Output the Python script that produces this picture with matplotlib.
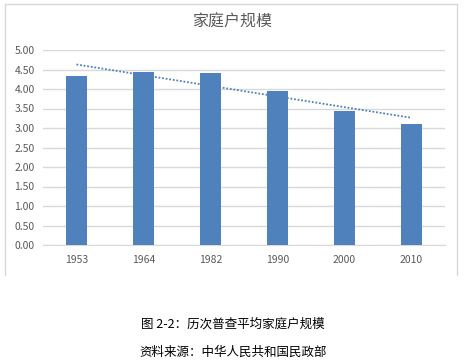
import numpy as np
import matplotlib.pyplot as plt
from matplotlib.lines import Line2D

plt.rcParams['font.family'] = ['Noto Sans CJK SC', 'DejaVu Sans']

# census years and average household size
years = ["1953", "1964", "1982", "1990", "2000", "2010"]
household_size = [4.33, 4.43, 4.41, 3.96, 3.44, 3.10]
y_ticks = [0.0, 0.5, 1.0, 1.5, 2.0, 2.5, 3.0, 3.5, 4.0, 4.5, 5.0]

fig = plt.figure(figsize=(4.67, 3.64), dpi=100)
ax = fig.add_axes([43 / 467, 1 - 245 / 364, 402 / 467, 195 / 364])

x = np.arange(len(years))
ax.bar(x, household_size, width=0.31, color="#4F81BD", zorder=3)

# linear trend line
k, b = np.polyfit(x, household_size, 1)
ax.plot(x, k * x + b, linestyle=(0, (1, 1)), color="#4F81BD", linewidth=1.3, zorder=4)

ax.set_xlim(-0.5, len(years) - 0.5)
ax.set_ylim(0, 5)
ax.set_yticks(y_ticks)
ax.set_yticklabels([f"{v:.2f}" for v in y_ticks])
ax.set_xticks(x)
ax.set_xticklabels(years)
ax.yaxis.grid(True, color="#D9D9D9", linewidth=1, zorder=0)
ax.tick_params(length=0, labelsize=7.5, labelcolor="#595959")
ax.tick_params(axis="x", pad=7)
ax.tick_params(axis="y", pad=6)
for s in ["top", "right", "left"]:
    ax.spines[s].set_visible(False)
ax.spines["bottom"].set_color("#D9D9D9")

fig.text(232 / 467, 1 - 22 / 364, "家庭户规模", ha="center", va="center",
         fontsize=11.5, color="#595959")

# chart frame
for xs, ys in [([5, 5], [4, 275]), ([457, 457], [4, 275]), ([5, 457], [4, 4])]:
    fig.add_artist(Line2D([v / 467 for v in xs], [1 - v / 364 for v in ys],
                          color="#D9D9D9", linewidth=1))

fig.text(233 / 467, 1 - 324 / 364, "图 2-2：历次普查平均家庭户规模", ha="center",
         va="center", fontsize=9, color="black")
fig.text(233 / 467, 1 - 352 / 364, "资料来源：中华人民共和国民政部", ha="center",
         va="center", fontsize=9, color="black")

plt.savefig("out.png", dpi=100)
